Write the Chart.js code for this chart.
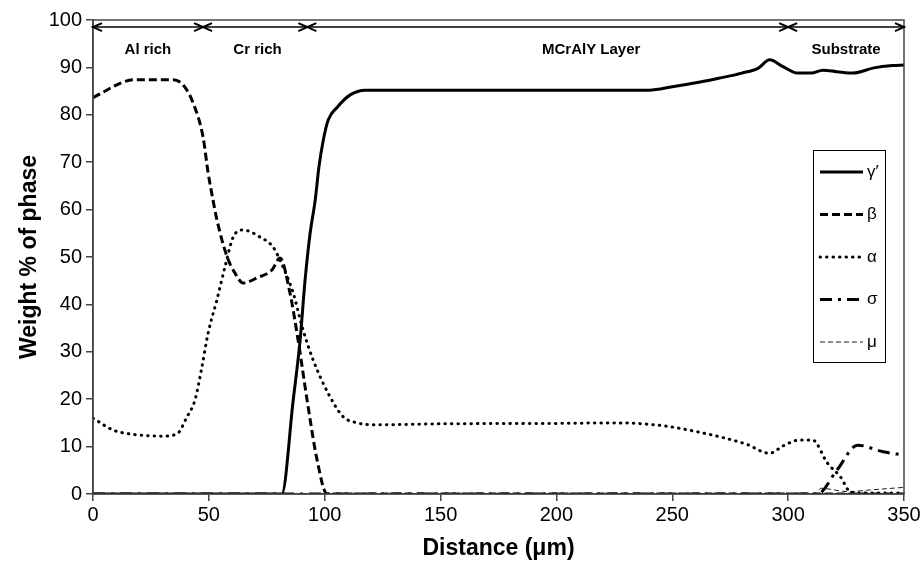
<!DOCTYPE html>
<html>
<head>
<meta charset="utf-8">
<script src="https://cdn.jsdelivr.net/npm/chart.js@4.4.0/dist/chart.umd.min.js"></script>
<style>
  body { margin: 0; background: #fff; }
  canvas { display: block; }
</style>
</head>
<body>
<canvas id="phaseChart" width="923" height="565"></canvas>
<script>
// distance (um) / weight %
var gammaX = [0, 81.5, 86.4, 89.4, 91.5, 93.7, 95.9, 97.5, 99.4, 101.5, 105.4, 111, 117.5, 135, 240, 250, 262, 270, 280, 287, 292, 298, 304, 310, 315, 321, 328, 337, 345, 350];
var gammaY = [0, 0, 19.8, 32.5, 45, 55, 62, 69, 74.7, 78.9, 81.6, 84.2, 85.2, 85.2, 85.2, 85.9, 86.9, 87.7, 88.8, 89.8, 91.6, 90.1, 88.8, 88.8, 89.4, 89.1, 88.8, 89.9, 90.4, 90.5];

var betaX = [0, 13, 17.3, 34.5, 38.9, 43.2, 47.5, 49.7, 51.8, 53.5, 57.9, 61.3, 64.8, 70.8, 77.3, 80.7, 85, 88.5, 92.4, 96.7, 101, 150, 200, 250, 300, 350];
var betaY = [83.6, 86.9, 87.4, 87.4, 86.3, 82.5, 75.3, 67.7, 62, 57.8, 50, 46.6, 44.5, 45.6, 47.3, 49.8, 42.4, 32.5, 19.8, 7.2, 0, 0, 0, 0, 0, 0];

var alphaX = [0, 8.6, 13, 30.2, 36.3, 40.6, 44, 47, 49.7, 53.5, 57, 60.5, 64.8, 72.1, 77.7, 82, 86.4, 90.3, 95, 102.3, 108, 114, 121, 150, 200, 228, 240, 249, 260, 271, 282, 292, 298, 305, 310.5, 317, 322.6, 327, 335, 350];
var alphaY = [16, 13.5, 12.9, 12.2, 12.7, 16.3, 19.8, 26.8, 34, 41, 48, 54.2, 55.7, 54.2, 52.1, 47.9, 42.4, 35.2, 28.3, 20.5, 16.3, 15, 14.6, 14.8, 14.9, 15, 14.7, 14.2, 13.2, 12, 10.5, 8.6, 10.2, 11.4, 11.4, 6.5, 3.6, 0.4, 0.2, 0.2];

var sigmaX = [0, 312.6, 321, 330, 341, 350];
var sigmaY = [0, 0, 5, 10.3, 8.9, 8.2];

var muX = [0, 312, 314, 326, 334, 350];
var muY = [0, 0, 1.2, 0.5, 0.8, 1.4];

var xTicks = [0, 50, 100, 150, 200, 250, 300, 350];
var yTicks = [0, 10, 20, 30, 40, 50, 60, 70, 80, 90, 100];

var zoneBounds = [0, 47.5, 92.5, 300, 350];
var zoneNames = ['Al rich', 'Cr rich', 'MCrAlY Layer', 'Substrate'];
var zoneLabelX = [23.7, 71, 215, 325];

function pts(xs, ys) {
    return xs.map(function (x, i) { return { x: x, y: ys[i] }; });
}

var series = [
    { label: 'γ′', data: pts(gammaX, gammaY), borderWidth: 3, borderDash: [], cap: 'butt', color: '#000' },
    { label: 'β', data: pts(betaX, betaY), borderWidth: 3, borderDash: [8, 4], cap: 'butt', color: '#000' },
    { label: 'α', data: pts(alphaX, alphaY), borderWidth: 3, borderDash: [0.5, 6], cap: 'round', color: '#000' },
    { label: 'σ', data: pts(sigmaX, sigmaY), borderWidth: 3, borderDash: [12, 6, 3, 6], cap: 'butt', color: '#000' },
    { label: 'μ', data: pts(muX, muY), borderWidth: 1, borderDash: [5, 3], cap: 'butt', color: '#222' }
];

var overlay = {
    id: 'overlay',
    afterDraw: function (chart) {
        var c = chart.ctx, a = chart.chartArea;
        var xs = chart.scales.x, ys = chart.scales.y;
        c.save();
        // frame
        c.strokeStyle = '#444';
        c.lineWidth = 1.5;
        c.strokeRect(a.left, a.top, a.right - a.left, a.bottom - a.top);

        // zone arrows
        var ay = ys.getPixelForValue(98.5);
        c.strokeStyle = '#000';
        c.lineWidth = 1.5;
        c.beginPath();
        c.moveTo(xs.getPixelForValue(0), ay);
        c.lineTo(xs.getPixelForValue(350), ay);
        c.stroke();
        c.lineWidth = 2;
        function head(px, dir) {
            c.beginPath();
            c.moveTo(px + dir * 9, ay - 4);
            c.lineTo(px, ay);
            c.lineTo(px + dir * 9, ay + 4);
            c.stroke();
        }
        for (var i = 0; i < zoneBounds.length; i++) {
            var px = xs.getPixelForValue(zoneBounds[i]);
            if (i > 0) head(px, -1);
            if (i < zoneBounds.length - 1) head(px, 1);
        }
        c.fillStyle = '#000';
        c.font = 'bold 15px "Liberation Sans", Arial, sans-serif';
        c.textAlign = 'center';
        c.textBaseline = 'middle';
        var ly = ys.getPixelForValue(93.6);
        zoneNames.forEach(function (n, i) {
            c.fillText(n, xs.getPixelForValue(zoneLabelX[i]), ly);
        });

        // legend box
        var bx = 813, by = 150, bw = 72, bh = 212, step = 42.5;
        c.fillStyle = '#fff';
        c.fillRect(bx, by, bw, bh);
        c.strokeStyle = '#000';
        c.lineWidth = 1;
        c.strokeRect(bx + 0.5, by + 0.5, bw, bh);
        c.font = '17px "Liberation Sans", Arial, sans-serif';
        c.textAlign = 'left';
        series.forEach(function (s, i) {
            var yy = by + 22 + i * step;
            c.strokeStyle = s.color;
            c.lineWidth = s.borderWidth;
            c.lineCap = s.cap;
            c.setLineDash(s.borderDash);
            c.beginPath();
            c.moveTo(bx + 7, yy);
            c.lineTo(bx + 50, yy);
            c.stroke();
            c.setLineDash([]);
            c.fillStyle = '#000';
            c.fillText(s.label, bx + 54, yy);
        });
        c.restore();
    }
};

var ctx = document.getElementById('phaseChart').getContext('2d');
var myChart = new Chart(ctx, {
    type: 'line',
    data: {
        datasets: series.map(function (s) {
            return {
                label: s.label,
                data: s.data,
                borderColor: s.color,
                borderWidth: s.borderWidth,
                borderDash: s.borderDash,
                borderCapStyle: s.cap,
                pointRadius: 0,
                fill: false,
                cubicInterpolationMode: 'monotone'
            };
        })
    },
    options: {
        responsive: false,
        animation: false,
        layout: { padding: { top: 20, right: 19, left: 0, bottom: 0 } },
        plugins: {
            legend: { display: false },
            tooltip: { enabled: false }
        },
        scales: {
            x: {
                type: 'linear',
                min: 0,
                max: 350,
                afterBuildTicks: function (scale) {
                    scale.ticks = xTicks.map(function (v) { return { value: v }; });
                },
                afterFit: function (scale) { scale.height = 71; },
                ticks: {
                    color: '#000',
                    font: { family: '"Liberation Sans", Arial, sans-serif', size: 20 },
                    padding: 2,
                    maxRotation: 0
                },
                grid: { drawOnChartArea: false, color: '#444', tickLength: 7, lineWidth: 1.5 },
                border: { color: '#444', width: 1.5 },
                title: {
                    display: true,
                    text: 'Distance (μm)',
                    color: '#000',
                    font: { family: '"Liberation Sans", Arial, sans-serif', size: 23, weight: 'bold' },
                    padding: { top: 0, bottom: 3 }
                }
            },
            y: {
                min: 0,
                max: 100,
                afterBuildTicks: function (scale) {
                    scale.ticks = yTicks.map(function (v) { return { value: v }; });
                },
                afterFit: function (scale) { scale.width = 93; },
                ticks: {
                    color: '#000',
                    font: { family: '"Liberation Sans", Arial, sans-serif', size: 20 },
                    padding: 4
                },
                grid: { drawOnChartArea: false, color: '#444', tickLength: 7, lineWidth: 1.5 },
                border: { color: '#444', width: 1.5 },
                title: {
                    display: true,
                    text: 'Weight % of phase',
                    color: '#000',
                    font: { family: '"Liberation Sans", Arial, sans-serif', size: 23, weight: 'bold' },
                    padding: { top: 16, bottom: 0 }
                }
            }
        }
    },
    plugins: [overlay]
});
</script>
</body>
</html>
